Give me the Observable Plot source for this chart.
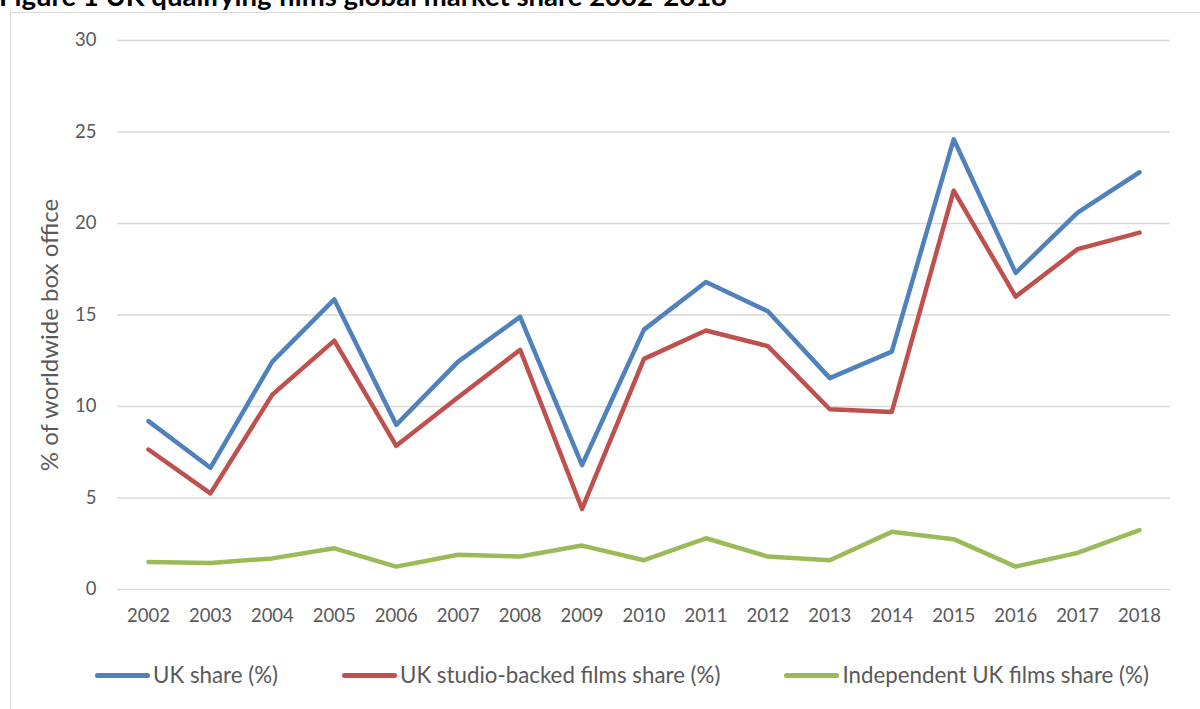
<!DOCTYPE html>
<html>
<head>
<meta charset="utf-8">
<script src="https://cdn.jsdelivr.net/npm/d3@7"></script>
<script src="https://cdn.jsdelivr.net/npm/@observablehq/plot@0.6"></script>
<style>
  html, body { margin: 0; padding: 0; background: #fff; overflow: hidden; }
  body { width: 1200px; height: 709px; position: relative; font-family: Lato, "Open Sans", sans-serif; }
  #title { position: absolute; left: -1px; top: -18px; font-weight: bold; font-size: 27.5px; color: #000; white-space: nowrap; line-height: 28px; }
  #frame { position: absolute; left: 10px; top: 12px; width: 1300px; height: 800px; border-left: 1.5px solid #d9d9d9; border-top: 1.5px solid #d9d9d9; }
  #chart { position: absolute; left: 0; top: 0; }
  #legend { position: absolute; left: 95px; top: 660px; display: flex; gap: 64px; font-size: 22.3px; color: #595959; line-height: 30px; }
  .item { display: flex; align-items: center; gap: 3px; }
  .sw { width: 55px; height: 5px; border-radius: 3px; }
</style>
</head>
<body>
<div id="frame"></div>
<div id="title">Figure 1 UK qualifying films global market share 2002-2018</div>
<div id="chart"></div>
<div id="legend"></div>
<script>
const years = [2002, 2003, 2004, 2005, 2006, 2007, 2008, 2009, 2010, 2011, 2012, 2013, 2014, 2015, 2016, 2017, 2018];
const ukShare = [9.2, 6.65, 12.45, 15.85, 9.0, 12.45, 14.9, 6.8, 14.2, 16.8, 15.2, 11.55, 13.0, 24.6, 17.3, 20.6, 22.8];
const studioShare = [7.65, 5.25, 10.65, 13.6, 7.85, 10.5, 13.1, 4.4, 12.6, 14.15, 13.3, 9.85, 9.7, 21.8, 16.0, 18.6, 19.5];
const indepShare = [1.5, 1.45, 1.7, 2.25, 1.25, 1.9, 1.8, 2.4, 1.6, 2.8, 1.8, 1.6, 3.15, 2.75, 1.25, 2.0, 3.25];
const seriesNames = ["UK share (%)", "UK studio-backed films share (%)", "Independent UK films share (%)"];
const seriesColors = ["#4F81BD", "#C0504D", "#9BBB59"];
const yTicks = [0, 5, 10, 15, 20, 25, 30];
const yLabel = "% of worldwide box office";

const seriesValues = [ukShare, studioShare, indepShare];
const data = [];
seriesNames.forEach((name, i) => {
  years.forEach((yr, j) => data.push({series: name, year: yr, value: seriesValues[i][j]}));
});

const chart = Plot.plot({
  width: 1200,
  height: 640,
  marginLeft: 117,
  marginRight: 30,
  marginTop: 40,
  marginBottom: 51,
  style: {fontFamily: "Lato, 'Open Sans', sans-serif", fontSize: "18px", color: "#595959", background: "transparent"},
  x: {type: "point", domain: years, padding: 0.5, round: false},
  y: {domain: [0, 30]},
  color: {domain: seriesNames, range: seriesColors},
  marks: [
    Plot.gridY(yTicks, {stroke: "#d9d9d9", strokeOpacity: 1, strokeWidth: 1.5}),
    Plot.axisY({ticks: yTicks, tickSize: 0, tickPadding: 21, label: null, fontSize: 18.5}),
    Plot.axisX({tickSize: 0, tickPadding: 19, label: null, fontSize: 18.5, tickFormat: d => String(d)}),
    Plot.lineY(data, {x: "year", y: "value", stroke: "series", strokeWidth: 4.5, strokeLinejoin: "round", strokeLinecap: "round"}),
    Plot.text([yLabel], {frameAnchor: "left", text: d => d, rotate: -90, textAnchor: "middle", lineAnchor: "middle", dx: -67, dy: 20, fontSize: 24, fill: "#595959"})
  ]
});
document.getElementById("chart").appendChild(chart);

const legend = document.getElementById("legend");
seriesNames.forEach((name, i) => {
  const item = document.createElement("div");
  item.className = "item";
  const sw = document.createElement("span");
  sw.className = "sw";
  sw.style.background = seriesColors[i];
  const t = document.createElement("span");
  t.textContent = name;
  item.appendChild(sw);
  item.appendChild(t);
  legend.appendChild(item);
});
</script>
</body>
</html>
